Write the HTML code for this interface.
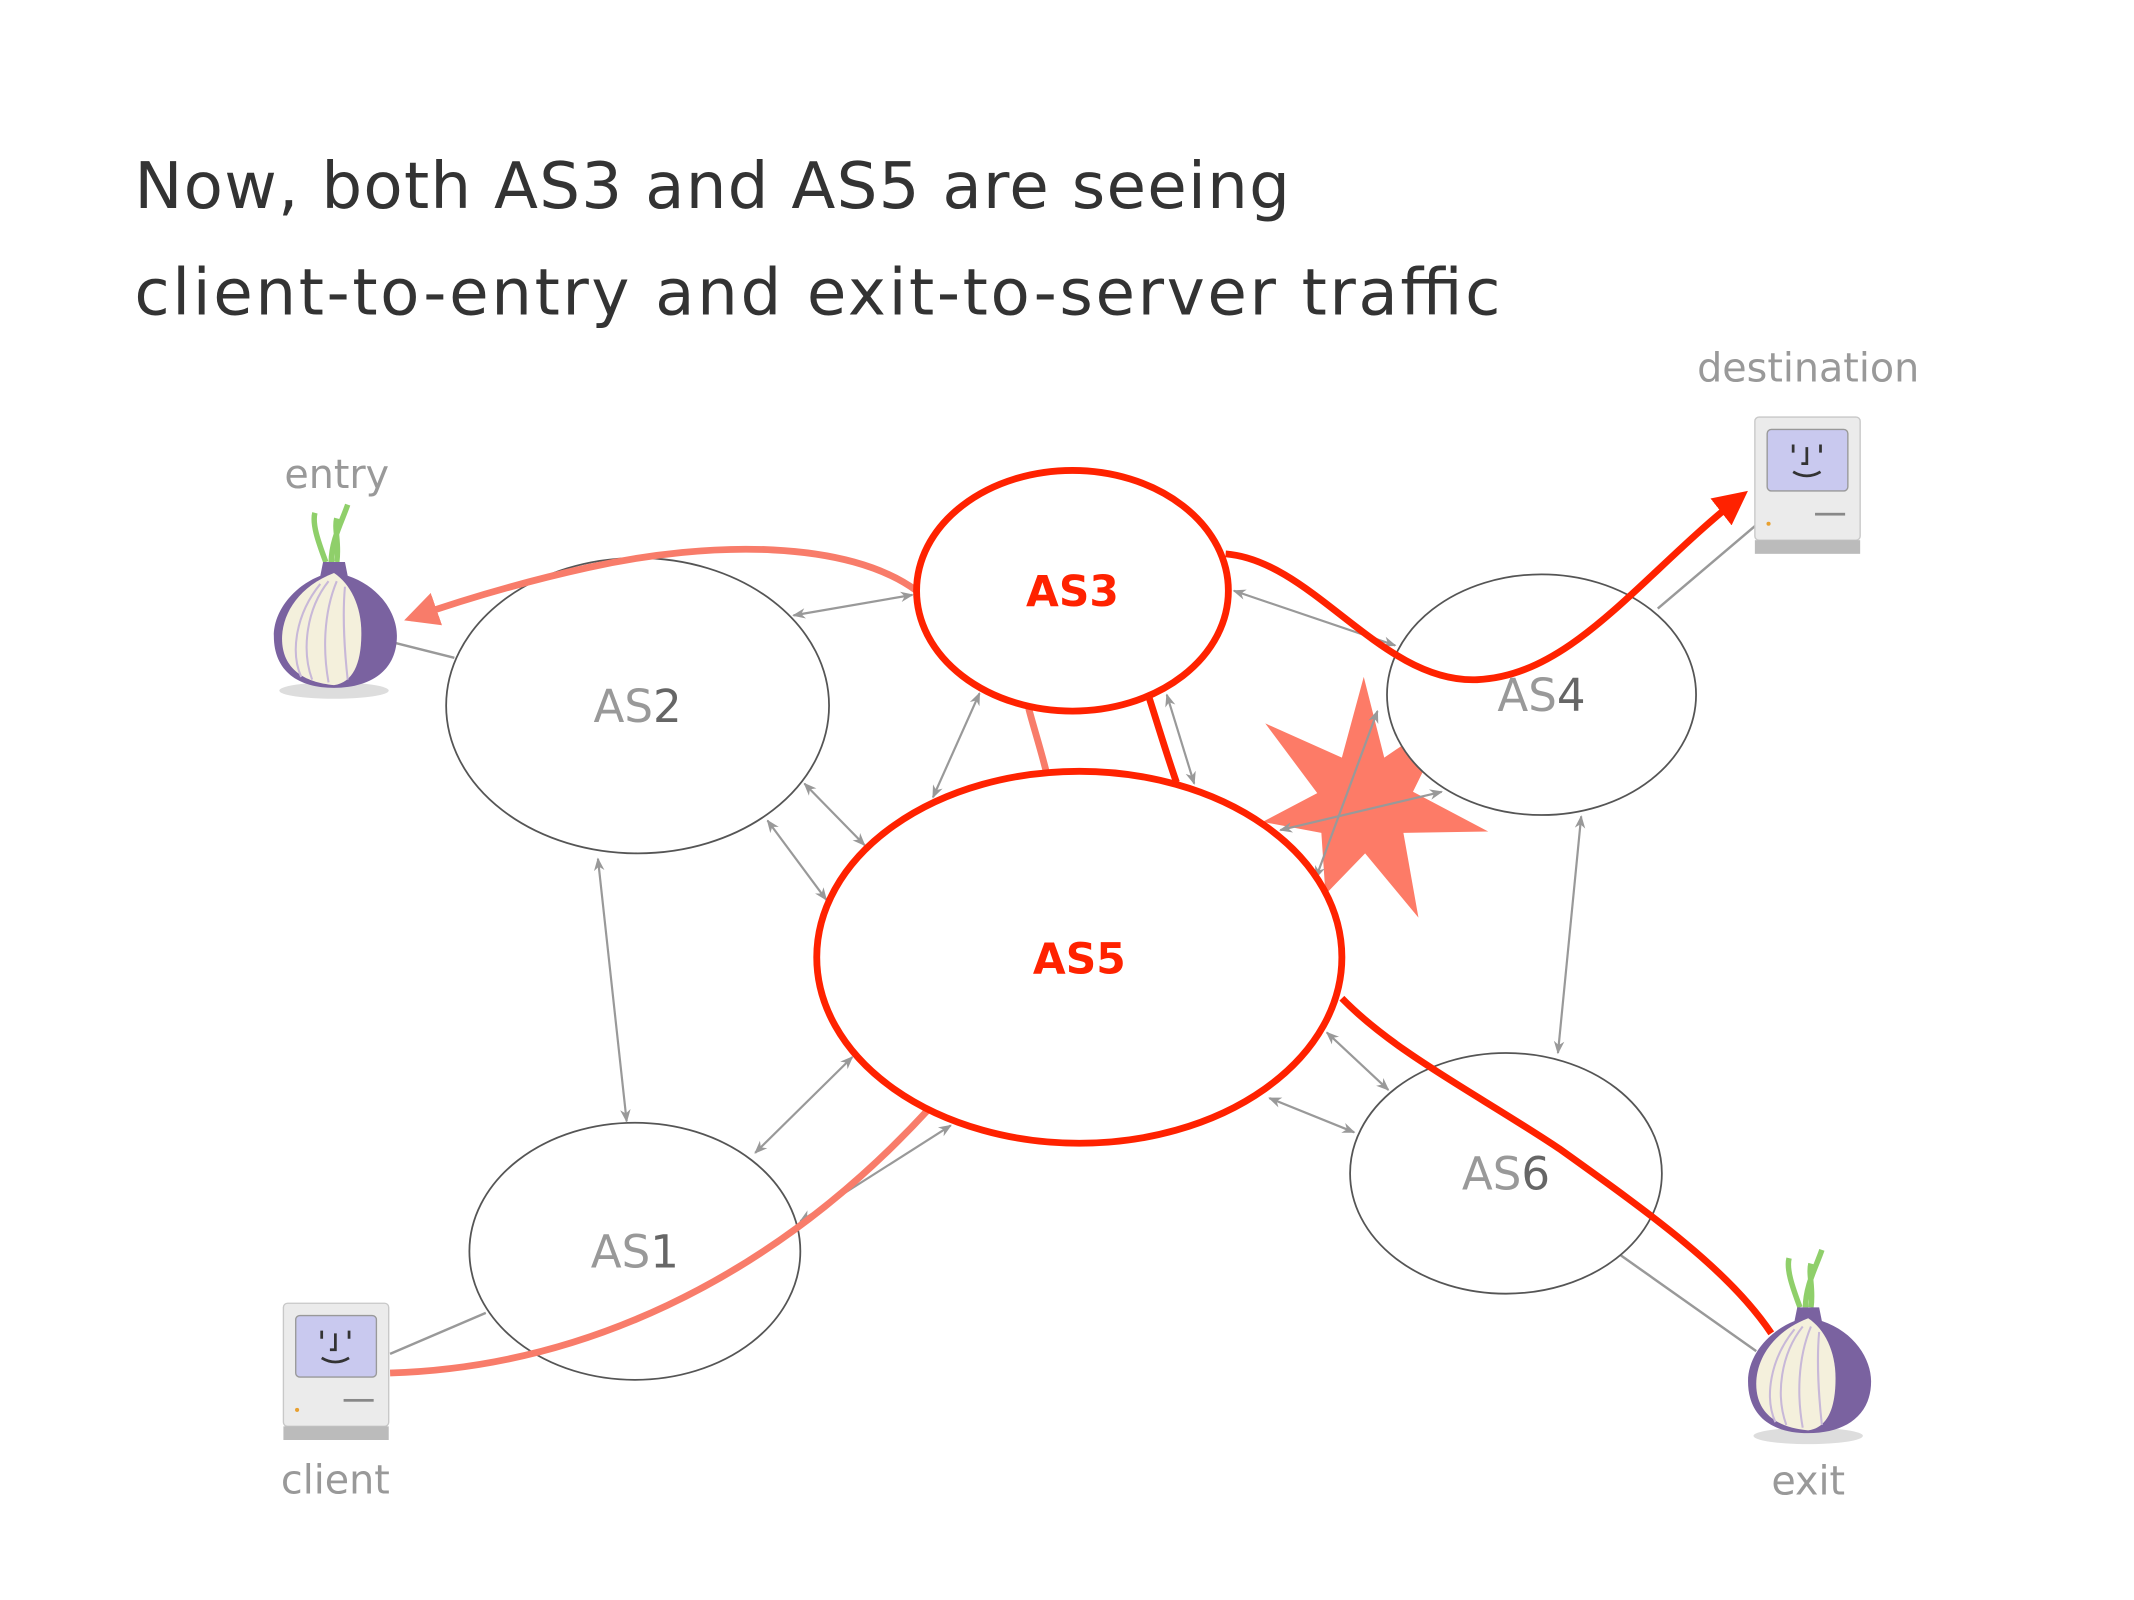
<!DOCTYPE html>
<html><head><meta charset="utf-8"><style>
html,body{margin:0;padding:0;background:#fff;}
svg{display:block;}
text{font-family:"DejaVu Sans","Liberation Sans",sans-serif;}
</style></head><body>
<svg width="2134" height="1600" viewBox="0 0 1560 1170" xmlns="http://www.w3.org/2000/svg">
<defs>
<marker id="g" viewBox="0 0 10 10" refX="9" refY="5" markerWidth="6" markerHeight="6" orient="auto-start-reverse"><path d="M0,1 L10,5 L0,9 L3,5 Z" fill="#999"/></marker>
<marker id="rs" viewBox="0 0 10 10" refX="8" refY="5" markerWidth="5" markerHeight="5" orient="auto"><path d="M0,0 L10,5 L0,10 Z" fill="#f87c6a"/></marker>
<marker id="rr" viewBox="0 0 10 10" refX="8" refY="5" markerWidth="5" markerHeight="5" orient="auto"><path d="M0,0 L10,5 L0,10 Z" fill="#ff2200"/></marker>
<g id="onion">
<path d="M-6,-44 C-12,-60 -16,-72 -14,-80 M-2,-44 C-2,-60 6,-74 10,-86 M2,-44 C4,-58 0,-68 2,-76" stroke="#8fcf6a" stroke-width="4" fill="none"/>
<ellipse cx="0" cy="50" rx="40" ry="6" fill="#ddd"/>
<path d="M-8,-44 L8,-44 L10,-34 C34,-26 46,-6 46,10 C46,36 26,48 0,48 C-26,48 -44,36 -44,10 C-44,-8 -30,-26 -10,-34 Z" fill="#7a62a0"/>
<path d="M0,-36 C-26,-26 -38,-6 -38,12 C-38,34 -22,44 0,46 C14,44 20,30 20,8 C20,-12 12,-28 0,-36 Z" fill="#f4f0dc"/>
<path d="M-4,-30 C-20,-10 -24,20 -16,42 M-10,-28 C-28,-6 -32,22 -24,40 M2,-30 C-8,-6 -8,22 -4,44 M8,-26 C6,-4 8,24 10,42" stroke="#c8b8d8" stroke-width="1.5" fill="none"/>
</g>
<g id="mac">
<rect x="0" y="0" width="77" height="90" rx="3" fill="#ebebeb" stroke="#c8c8c8"/>
<rect x="9" y="9" width="59" height="45" rx="3" fill="#c9c9ef" stroke="#999"/>
<path d="M28,20 v6 M48,20 v6 M38,22 v12 h-4 M28,40 q10,6 20,0" stroke="#333" stroke-width="2" fill="none"/>
<rect x="44" y="70" width="22" height="2" fill="#888"/>
<circle cx="10" cy="78" r="1.5" fill="#e8a030"/>
<rect x="0" y="90" width="77" height="10" fill="#bbb"/>
</g>
</defs>

<text x="98" y="152" font-size="47" fill="#333" textLength="845" lengthAdjust="spacing">Now, both AS3 and AS5 are seeing</text>
<text x="98" y="230" font-size="47" fill="#333" textLength="999" lengthAdjust="spacing">client-to-entry and exit-to-server traffic</text>

<text x="246" y="357" font-size="29" fill="#999" text-anchor="middle">entry</text>
<text x="1322" y="279" font-size="29" fill="#999" text-anchor="middle">destination</text>
<text x="245" y="1092" font-size="29" fill="#999" text-anchor="middle">client</text>
<text x="1322" y="1093" font-size="29" fill="#999" text-anchor="middle">exit</text>

<g stroke="#999" stroke-width="1.8">
<line x1="288" y1="470" x2="332" y2="481"/>
<line x1="1212" y1="445" x2="1285" y2="383"/>
<line x1="285" y1="990" x2="355" y2="960"/>
<line x1="1185" y1="918" x2="1284" y2="988"/>
</g>

<polygon points="997,495 1012,554 1062,520 1033,579 1088,608 1026,609 1037,671 998,624 969,654 966,609 923,601 963,580 925,529 981,554" fill="#fd7b67"/>

<g fill="#fff" stroke="#555" stroke-width="1.3">
<ellipse cx="466" cy="516" rx="140" ry="108" fill="none"/>
<ellipse cx="1127" cy="508" rx="113" ry="88"/>
<ellipse cx="464" cy="915" rx="121" ry="94" fill="none"/>
<ellipse cx="1101" cy="858" rx="114" ry="88" fill="none"/>
</g>

<g stroke="#999" stroke-width="1.6" marker-start="url(#g)" marker-end="url(#g)">
<line x1="580" y1="450" x2="667" y2="435"/>
<line x1="902" y1="432" x2="1020" y2="472"/>
<line x1="716" y1="507" x2="682" y2="583"/>
<line x1="853" y1="508" x2="873" y2="573"/>
<line x1="588" y1="573" x2="632" y2="618"/>
<line x1="561" y1="600" x2="604" y2="658"/>
<line x1="437" y1="628" x2="458" y2="820"/>
<line x1="1156" y1="597" x2="1139" y2="770"/>
<line x1="552" y1="843" x2="623" y2="773"/>
<line x1="585" y1="893" x2="695" y2="823"/>
<line x1="970" y1="755" x2="1015" y2="797"/>
<line x1="928" y1="803" x2="990" y2="828"/>
<line x1="1007" y1="520" x2="962" y2="642"/>
<line x1="1054" y1="579" x2="936" y2="607"/>
</g>

<g fill="none" stroke="#f87c6a" stroke-width="5">
<path d="M670,432 C620,395 520,395 430,415 C380,426 340,438 300,452" marker-end="url(#rs)"/>
<path d="M285,1004 C420,1000 560,940 678,812"/>
<path d="M765,565 C760,545 755,530 752,518"/>
</g>

<ellipse cx="784" cy="432" rx="114" ry="88" fill="none" stroke="#ff2200" stroke-width="5"/>
<ellipse cx="789" cy="700" rx="192" ry="136" fill="none" stroke="#ff2200" stroke-width="5"/>
<g fill="none" stroke="#ff2200" stroke-width="5">
<path d="M896,405 C960,410 1010,500 1080,497 C1150,494 1200,420 1274,362" marker-end="url(#rr)"/>
<path d="M840,510 C848,535 853,552 860,572"/>
<path d="M981,730 C1020,770 1080,800 1140,840 C1210,890 1265,930 1295,975"/>
</g>

<g font-size="33" text-anchor="middle">
<text x="784" y="443" fill="#ff2200" font-weight="bold" font-size="31">AS3</text>
<text x="789" y="712" fill="#ff2200" font-weight="bold" font-size="31">AS5</text>
<text x="466" y="528" fill="#999">AS<tspan fill="#666">2</tspan></text>
<text x="1127" y="520" fill="#999">AS<tspan fill="#666">4</tspan></text>
<text x="464" y="927" fill="#999">AS<tspan fill="#666">1</tspan></text>
<text x="1101" y="870" fill="#999">AS<tspan fill="#666">6</tspan></text>
</g>

<use href="#onion" x="244" y="455"/>
<use href="#onion" x="1322" y="1000"/>
<use href="#mac" x="1283" y="305"/>
<use href="#mac" x="207" y="953"/>
</svg>
</body></html>
